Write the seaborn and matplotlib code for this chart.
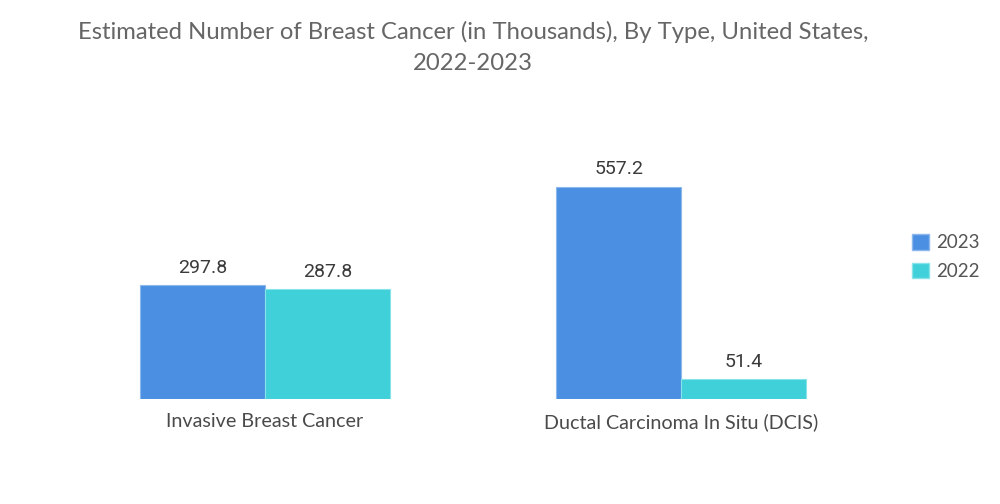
import matplotlib
matplotlib.use("Agg")
import matplotlib.pyplot as plt
import seaborn as sns
import pandas as pd
from matplotlib.patches import Patch

categories = ["Invasive Breast Cancer", "Ductal Carcinoma In Situ (DCIS)"]
years = ["2023", "2022"]
values_2023 = [297.8, 557.2]
values_2022 = [287.8, 51.4]
colors = ["#4A8FE1", "#3FD0DA"]
edge_colors = ["#8DB8EE", "#86E3E8"]

df = pd.DataFrame({
    "Type": categories * 2,
    "Year": [years[0]] * 2 + [years[1]] * 2,
    "Value": values_2023 + values_2022,
})

sns.set_theme(style="white")
plt.rcParams["font.family"] = ["Lato", "DejaVu Sans"]

fig = plt.figure(figsize=(10, 5.04), dpi=100)
ax = fig.add_axes([0.057, 0.2083, 0.832, 0.5])
sns.barplot(data=df, x="Type", y="Value", hue="Year", hue_order=years,
            order=categories, palette=colors, width=0.6, ax=ax,
            legend=False, saturation=1)

for i, cont in enumerate(ax.containers):
    for p in cont.patches:
        p.set_edgecolor(edge_colors[i])
        p.set_linewidth(0.8)
    ax.bar_label(cont, labels=[f"{v:.1f}" for v in cont.datavalues],
                 padding=6, fontsize=14, color="#3a3a3a", family="Roboto")

ax.set_xlim(-0.5, 1.5)
ax.set_ylim(0, 661)
for s in ax.spines.values():
    s.set_visible(False)
ax.set_yticks([])
ax.set_xlabel("")
ax.set_ylabel("")
ax.tick_params(axis="x", length=0, pad=10, labelsize=14.2, labelcolor="#4a4a4a")

handles = [Patch(facecolor=colors[k], edgecolor=edge_colors[k], label=years[k]) for k in range(2)]
fig.legend(handles=handles, loc="center left", bbox_to_anchor=(0.895, 0.49),
           frameon=False, fontsize=13.5, labelcolor="#555555",
           handlelength=0.9, handleheight=0.9, handletextpad=0.4, labelspacing=0.6)

fig.text(0.473, 0.958, "Estimated Number of Breast Cancer (in Thousands), By Type, United States,\n2022-2023",
         ha="center", va="top", fontsize=17.2, color="#666666", linespacing=1.55)

fig.savefig("out.png", dpi=100)
